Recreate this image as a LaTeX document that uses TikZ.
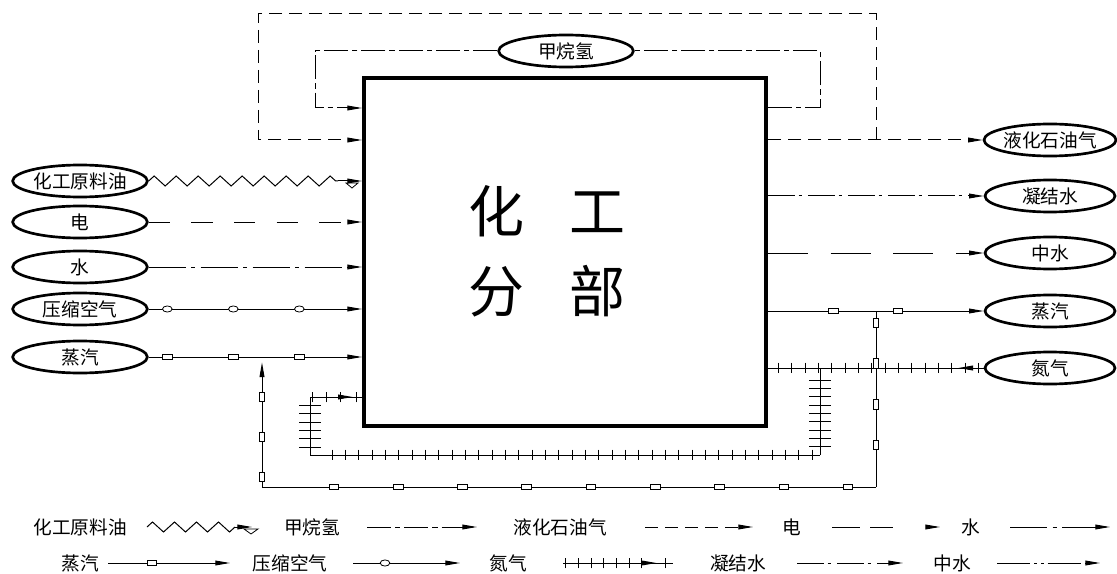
\documentclass[tikz,border=0pt]{standalone}
\usepackage{fontspec}
\newfontfamily\cjk{Noto Sans CJK SC}
\usetikzlibrary{arrows.meta,shapes.geometric,decorations.markings,decorations.pathmorphing}
\tikzset{
  conn/.style={line width=0.75pt},
  arr/.style={-{Triangle[length=11pt,width=3.6pt]}},
  ell/.style={draw, ellipse, line width=2pt, inner sep=0pt, minimum width=101pt, minimum height=24pt, font=\cjk\fontsize{14pt}{14pt}\selectfont},
  ellr/.style={ell, minimum width=97.5pt},
  lg/.style={inner sep=0pt, font=\cjk\fontsize{14pt}{14pt}\selectfont},
  boxstyle/.style={draw, line width=3pt, minimum width=301.5pt, minimum height=261pt, inner sep=0pt},
  bigtxt/.style={align=center, inner sep=0pt, font=\cjk\fontsize{42pt}{60pt}\selectfont},
  zz/.style={conn, decorate, decoration={zigzag, segment length=16.5pt, amplitude=3.75pt}},
  lpgline/.style={conn, dash pattern=on 10pt off 5pt},
  ch4line/.style={conn, dash pattern=on 18pt off 3pt on 4pt off 3pt},
  condline/.style={conn, dash pattern=on 20pt off 3pt on 2.5pt off 4.5pt},
  midline/.style={conn, dash pattern=on 30pt off 17pt},
  eleline/.style={conn, dash pattern=on 16pt off 16pt},
  watline/.style={conn, dash pattern=on 28pt off 4pt on 3pt off 4pt},
  legmid/.style={conn, dash pattern=on 25pt off 3pt on 2pt off 3pt on 2pt off 3pt},
  legele/.style={conn, dash pattern=on 21pt off 7.5pt on 17pt off 40pt},
  sqm/.style={postaction={decorate,decoration={markings,mark=between positions #1 with {\draw[line width=0.6pt,fill=white] (-3.6pt,-2.1pt) rectangle (3.6pt,2.1pt);}}}},
  sq1/.style={postaction={decorate,decoration={markings,mark=at position #1 with {\draw[line width=0.6pt,fill=white] (-3.6pt,-2.1pt) rectangle (3.6pt,2.1pt);}}}},
  cim/.style={postaction={decorate,decoration={markings,mark=between positions #1 with {\draw[line width=0.6pt,fill=white] (0,0) ellipse (3.6pt and 2.3pt);}}}},
  ci1/.style={postaction={decorate,decoration={markings,mark=at position #1 with {\draw[line width=0.6pt,fill=white] (0,0) ellipse (3.6pt and 2.3pt);}}}},
  ntk/.style={postaction={decorate,decoration={markings,mark=between positions #1 with {\draw[line width=0.6pt] (0,-4pt) -- (0,4pt);}}}},
  ntkl/.style={postaction={decorate,decoration={markings,mark=between positions #1 with {\draw[line width=0.6pt] (0,-8pt) -- (0,8pt);}}}},
  nt1/.style={postaction={decorate,decoration={markings,mark=at position #1 with {\draw[line width=0.6pt] (0,-4pt) -- (0,4pt);}}}},
  narr/.style={postaction={decorate,decoration={markings,mark=at position #1 with {\arrow{Triangle[length=11pt,width=3.6pt]}}}}},
}
\begin{document}
\begin{tikzpicture}[x=0.75pt,y=-0.75pt]
\useasboundingbox (0,0) rectangle (1117,574);
% main box
\node[boxstyle] (box) at (565,252) {};
\node[bigtxt] (bt) at (547,251) {化\hspace{34pt}工\\分\hspace{34pt}部};
% left ellipses
\node[ell] (oil) at (80,181) {化工原料油};
\node[ell] (ele) at (80,222) {电};
\node[ell] (wat) at (80,267) {水};
\node[ell] (air) at (80,309) {压缩空气};
\node[ell] (stl) at (80,357) {蒸汽};
% right ellipses
\node[ellr] (lpg) at (1050,140) {液化石油气};
\node[ellr] (cond) at (1050,196) {凝结水};
\node[ellr] (mid) at (1050,253) {中水};
\node[ellr] (str) at (1050,311) {蒸汽};
\node[ellr] (nit) at (1050,368) {氮气};
% top ellipse
\node[ell] (ch4) at (566,51) {甲烷氢};
% methane loop
\coordinate (mR1) at (820,108);
\coordinate (mR2) at (820,51);
\coordinate (mL1) at (315,51);
\coordinate (mL2) at (315,108);
\draw[ch4line] (mR1 -| box.east) -- (mR1) -- (mR2) -- (ch4.east);
\draw[ch4line,arr] (ch4.west) -- (mL1) -- (mL2) -- (mL2 -| box.west);
% LPG
\draw[lpgline,arr] (lpg.west -| box.east) -- (lpg.west);
\coordinate (lj) at (876,140);
\coordinate (otr) at (876,14);
\coordinate (otl) at (258,14);
\coordinate (obl) at (258,140);
\draw[lpgline,arr] (lj) -- (otr) -- (otl) -- (obl) -- (obl -| box.west);
% left inputs
\coordinate (oilz) at (338,181);
\draw[zz] (oil.east) -- (oilz);
\draw[conn,arr] (oilz) -- (oilz -| box.west);
\draw[line width=0.6pt] (346,183) -- (358,183) -- (352,188) -- cycle;
\draw[eleline,arr] (ele.east) -- (ele.east -| box.west);
\draw[watline,arr] (wat.east) -- (wat.east -| box.west);
\draw[conn,arr,cim={14pt and 120pt step 49.5pt}] (air.east) -- (air.east -| box.west);
\draw[conn,arr,sqm={14pt and 120pt step 49.5pt}] (stl.east) -- (stl.east -| box.west);
% right outputs
\draw[condline,arr] (cond.west -| box.east) -- (cond.west);
\draw[midline,arr] (mid.west -| box.east) -- (mid.west);
\draw[conn,arr,sqm={49pt and 100pt step 48.5pt}] (str.west -| box.east) -- (str.west);
% steam branch
\coordinate (sjR) at (876,311);
\coordinate (sbr) at (876,487);
\coordinate (sbl) at (262,487);
\coordinate (sj) at (262,357);
\draw[conn,sqm={9pt and 105pt step 30.5pt}] (sjR) -- (sbr);
\draw[conn,sqm={21pt and 415pt step 48.2pt}] (sbr) -- (sbl);
\draw[conn,arr,shorten >=4pt,sqm={7.5pt and 70pt step 30pt}] (sbl) -- (sj);
% nitrogen
\draw[conn,ntk={4pt and 157pt step 10pt},narr=19pt] (nit.west) -- (nit.west -| box.east);
\coordinate (nj) at (820,368);
\coordinate (nb) at (820,455);
\coordinate (nl) at (310,455);
\coordinate (nt) at (310,397);
\draw[conn,ntkl={9pt and 61pt step 6.25pt}] (nj) -- (nb);
\draw[conn,ntk={6pt and 372pt step 10pt}] (nb) -- (nl);
\draw[conn,ntkl={6pt and 40pt step 6.25pt}] (nl) -- (nt);
\draw[conn,ntk={2pt and 25pt step 10.5pt},nt1=34.5pt,narr=32pt] (nt) -- (nt -| box.west);
% legend row 1
\node[lg] (l1) at (80,527) {化工原料油};
\draw[zz] (147,527) -- (235,527);
\draw[conn,arr] (235,527) -- (252,527);
\draw[line width=0.6pt] (244,529) -- (258,529) -- (251,534) -- cycle;
\node[lg] (l2) at (312,527) {甲烷氢};
\draw[ch4line,arr] (367,527) -- (477,527);
\node[lg] (l3) at (560,527) {液化石油气};
\draw[lpgline,arr] (645,527) -- (753,527);
\node[lg] (l4) at (792,527) {电};
\draw[legele,arr] (832,527) -- (940,527);
\node[lg] (l5) at (971,527) {水};
\draw[watline,arr] (1010,527) -- (1110,527);
% legend row 2
\node[lg] (l6) at (80,563) {蒸汽};
\draw[conn,arr,sq1=33pt] (108,563) -- (230,563);
\node[lg] (l7) at (290,563) {压缩空气};
\draw[conn,arr,ci1=24pt] (353,563) -- (460,563);
\node[lg] (l8) at (508,563) {氮气};
\draw[conn,ntk={2pt and 66pt step 9.5pt},nt1=77pt,narr=70pt] (563,563) -- (673,563);
\node[lg] (l9) at (738,563) {凝结水};
\draw[condline,arr] (797,563) -- (903,563);
\node[lg] (l10) at (952,563) {中水};
\draw[legmid,arr] (997,563) -- (1100,563);
\end{tikzpicture}
\end{document}
